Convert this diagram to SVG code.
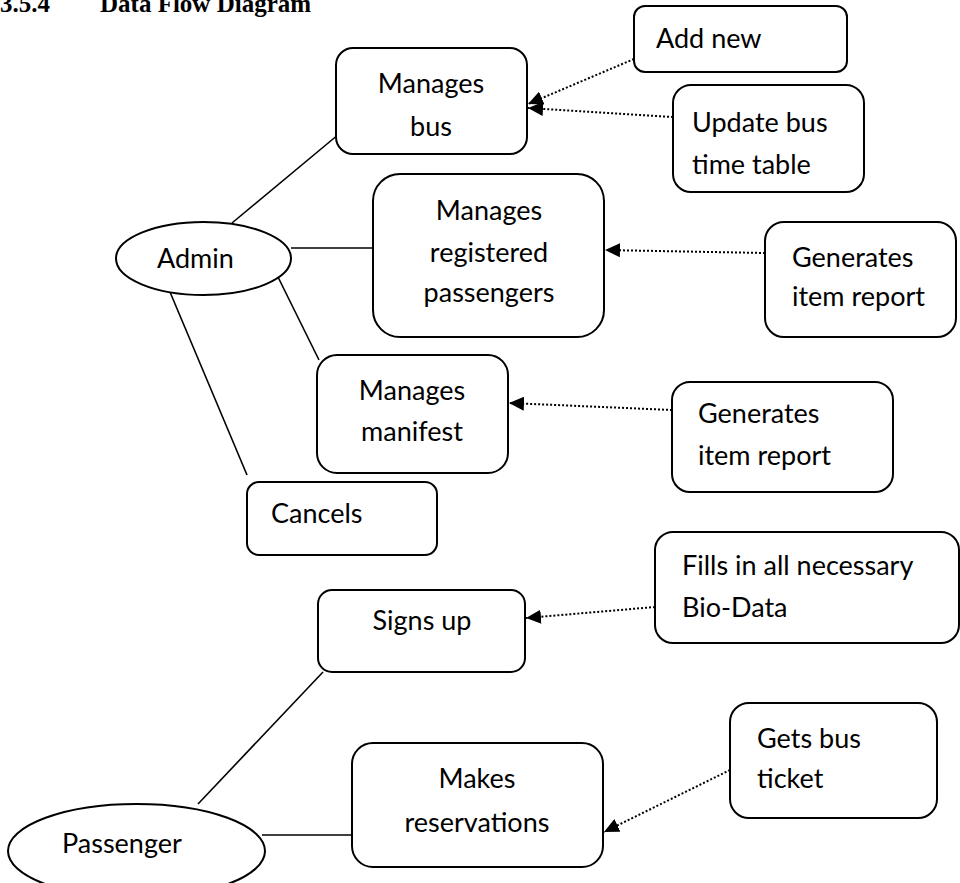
<svg xmlns="http://www.w3.org/2000/svg" width="960" height="883" viewBox="0 0 960 883">
<style>
  .box { fill: #ffffff; stroke: #000000; stroke-width: 2; }
  .ell { fill: #ffffff; stroke: #000000; stroke-width: 2; }
  .t { font-family: Lato, "Open Sans", "Liberation Sans", sans-serif; font-size: 27px; fill: #000000; }
  .c { text-anchor: middle; }
  .title { font-family: "Liberation Serif", "Times New Roman", serif; font-size: 25px; font-weight: bold; fill: #000000; }
  .solid { stroke: #000000; stroke-width: 1.6; fill: none; }
  .dot { stroke: #000000; stroke-width: 2; stroke-dasharray: 2 2; fill: none; marker-end: url(#arr); }
</style>
<defs>
  <marker id="arr" markerUnits="userSpaceOnUse" markerWidth="16" markerHeight="14" refX="15" refY="7" orient="auto">
    <path d="M0,0 L15,7 L0,14 Z" fill="#000000"/>
  </marker>
</defs>
<rect width="960" height="883" fill="#ffffff"/>
<text class="title" x="0" y="12">3.5.4</text>
<text class="title" x="100" y="12">Data Flow Diagram</text>

<g id="connectors">
  <line class="solid" x1="232" y1="223" x2="345" y2="129"/>
  <line class="solid" x1="291" y1="248" x2="373" y2="248"/>
  <line class="solid" x1="277" y1="275" x2="319" y2="360"/>
  <line class="solid" x1="170" y1="292" x2="247" y2="475"/>
  <line class="solid" x1="198" y1="804" x2="323" y2="672"/>
  <line class="solid" x1="262" y1="835" x2="352" y2="835"/>
  <line class="dot" x1="634" y1="59" x2="528" y2="104"/>
  <line class="dot" x1="673" y1="117" x2="528" y2="108"/>
  <line class="dot" x1="765" y1="253" x2="605" y2="250"/>
  <line class="dot" x1="672" y1="410" x2="509" y2="403"/>
  <line class="dot" x1="655" y1="607" x2="526" y2="618"/>
  <line class="dot" x1="730" y1="770" x2="604" y2="832"/>
</g>

<g id="manages-bus">
  <rect class="box" x="336" y="48" width="191" height="106" rx="17"/>
  <text class="t c" x="431" y="93">Manages</text>
  <text class="t c" x="431" y="136">bus</text>
</g>
<g id="add-new">
  <rect class="box" x="634" y="6" width="213" height="66" rx="11"/>
  <text class="t" x="656" y="48">Add new</text>
</g>
<g id="update-bus">
  <rect class="box" x="673" y="85" width="191" height="107" rx="18"/>
  <text class="t" x="692" y="132">Update bus</text>
  <text class="t" x="692" y="174">time table</text>
</g>
<g id="admin">
  <ellipse class="ell" cx="203.5" cy="258.5" rx="87.5" ry="36.5"/>
  <text class="t" x="157" y="268">Admin</text>
</g>
<g id="manages-registered">
  <rect class="box" x="373" y="174" width="231" height="163" rx="27"/>
  <text class="t c" x="489" y="220">Manages</text>
  <text class="t c" x="489" y="262">registered</text>
  <text class="t c" x="489" y="302">passengers</text>
</g>
<g id="generates-report-1">
  <rect class="box" x="765" y="222" width="191" height="115" rx="19"/>
  <text class="t" x="792" y="267">Generates</text>
  <text class="t" x="792" y="306">item report</text>
</g>
<g id="manages-manifest">
  <rect class="box" x="317" y="355" width="191" height="118" rx="20"/>
  <text class="t c" x="412" y="400">Manages</text>
  <text class="t c" x="412" y="441">manifest</text>
</g>
<g id="generates-report-2">
  <rect class="box" x="672" y="382" width="221" height="110" rx="18"/>
  <text class="t" x="698" y="423">Generates</text>
  <text class="t" x="698" y="465">item report</text>
</g>
<g id="cancels">
  <rect class="box" x="247" y="482" width="190" height="73" rx="12"/>
  <text class="t" x="271" y="523">Cancels</text>
</g>
<g id="fills-bio-data">
  <rect class="box" x="655" y="532" width="304" height="111" rx="18"/>
  <text class="t" x="682" y="575">Fills in all necessary</text>
  <text class="t" x="682" y="617">Bio-Data</text>
</g>
<g id="signs-up">
  <rect class="box" x="318" y="590" width="207" height="82" rx="14"/>
  <text class="t c" x="422" y="630">Signs up</text>
</g>
<g id="gets-bus-ticket">
  <rect class="box" x="730" y="703" width="207" height="115" rx="19"/>
  <text class="t" x="757" y="748">Gets bus</text>
  <text class="t" x="757" y="788">ticket</text>
</g>
<g id="makes-reservations">
  <rect class="box" x="352" y="743" width="251" height="124" rx="21"/>
  <text class="t c" x="477" y="788">Makes</text>
  <text class="t c" x="477" y="832">reservations</text>
</g>
<g id="passenger">
  <ellipse class="ell" cx="136.5" cy="851" rx="128.5" ry="47"/>
  <text class="t" x="62" y="853">Passenger</text>
</g>
</svg>
